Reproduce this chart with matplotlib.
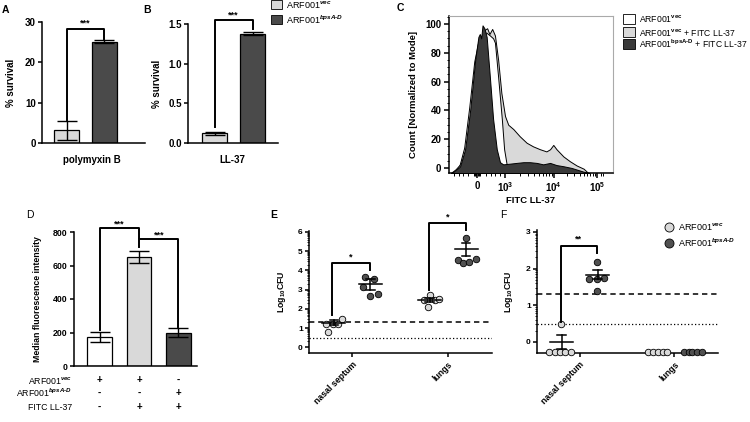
import numpy as np
import matplotlib
matplotlib.use('Agg')
import matplotlib.pyplot as plt
from matplotlib.patches import Rectangle
from matplotlib.lines import Line2D
from matplotlib.ticker import MultipleLocator, FixedLocator

plt.rcParams['font.family'] = ['Liberation Sans', 'DejaVu Sans']
plt.rcParams['font.weight'] = 'bold'
plt.rcParams['axes.labelweight'] = 'bold'
plt.rcParams['mathtext.fontset'] = 'custom'
plt.rcParams['mathtext.rm'] = 'Liberation Sans'
plt.rcParams['mathtext.it'] = 'Liberation Sans:italic'
plt.rcParams['mathtext.bf'] = 'Liberation Sans:bold'
plt.rcParams['axes.linewidth'] = 1.1
plt.rcParams['xtick.major.width'] = 1.1
plt.rcParams['ytick.major.width'] = 1.1

LIGHT = '#d9d9d9'
DARK = '#4a4a4a'
W, H = 750, 422

# ---- data A / B : survival ----
strains = ['ARF001vec', 'ARF001bpsA-D']
polymyxin_mean = [3.1, 25.1]
polymyxin_sem = [2.4, 0.4]
ll37_mean = [0.12, 1.38]
ll37_sem = [0.02, 0.02]

# ---- data C : FITC LL-37 histograms (display units, % of mode) ----
c_dark_u = [-0.55, -0.45, -0.37, -0.26, -0.15, -0.04, 0.03, 0.06, 0.09, 0.12, 0.16, 0.21, 0.28, 0.35,
            0.43, 0.50, 0.57, 0.72, 0.86, 1.01, 1.15, 1.30, 1.44, 1.59, 1.73, 1.88, 2.06, 2.31, 2.45]
c_dark_v = [-3.5, -1, 1, 13, 40, 75, 91, 93, 90, 99, 97, 91, 63, 34,
            13, 4, 2.5, 3, 3.5, 4, 4, 3.5, 2.5, 3.5, 2, 1.2, 0, -2.5, -3.5]
c_white_u = [-0.57, -0.47, -0.38, -0.28, -0.17, -0.06, 0.03, 0.12, 0.20, 0.28, 0.35, 0.39, 0.46, 0.54,
             0.59, 0.65, 0.72]
c_white_v = [-3.5, -1, 2, 14, 42, 74, 88, 93, 94, 92, 90, 87, 63, 34, 13, 1.5, -3.5]
c_gray_u = [-0.55, -0.45, -0.36, -0.25, -0.14, -0.03, 0.06, 0.12, 0.17, 0.22, 0.27, 0.33, 0.39, 0.46,
            0.53, 0.61, 0.68, 0.79, 0.93, 1.08, 1.22, 1.37, 1.51, 1.59, 1.66, 1.73, 1.88, 2.02, 2.17,
            2.32, 2.42]
c_gray_v = [-3.5, -1, 3, 16, 45, 75, 88, 92, 96, 97, 93, 96.5, 92, 75,
            52, 36, 30, 27, 22, 17.5, 15, 13, 11.5, 13, 16, 13, 8, 4.7, 1.7, -0.5, -3.5]
c_tick_pos = [0, 0.61, 1.67, 2.61]
c_tick_lab = ['0', r'$\mathbf{10^3}$', r'$\mathbf{10^4}$', r'$\mathbf{10^5}$']
c_legend = [r'ARF001$^{\mathrm{vec}}$', r'ARF001$^{\mathrm{vec}}$ + FITC LL-37',
            r'ARF001$^{\mathrm{bpsA\text{-}D}}$ + FITC LL-37']

# ---- data D : median fluorescence ----
mfi_mean = [175, 650, 200]
mfi_sem = [30, 37, 25]
d_rows = [r'ARF001$^{vec}$', r'ARF001$^{bpsA\text{-}D}$', 'FITC LL-37']
d_signs = [['+', '+', '-'], ['-', '-', '+'], ['-', '+', '+']]

# ---- data E / F : Log10 CFU ----
organs = ['nasal septum', 'lungs']
e_vals = [[1.23, 0.77, 1.20, 1.20, 1.49],
          [3.66, 3.54, 3.14, 2.76, 2.67],
          [2.47, 2.71, 2.45, 2.50, 2.12],
          [5.66, 4.53, 4.41, 4.44, 4.58]]
e_mean = [1.28, 3.27, 2.45, 5.09]
e_sem = [0.12, 0.29, 0.10, 0.34]
e_lod = [1.30, 0.47]
f_vals = [[-0.28, -0.28, -0.28, -0.28, -0.28, 0.48],
          [2.19, 1.71, 1.71, 1.75, 1.39],
          [-0.28, -0.28, -0.28, -0.28, -0.28],
          [-0.28, -0.28, -0.28, -0.28, -0.28]]
f_mean = [0.0, 1.83, np.nan, np.nan]
f_sem = [0.18, 0.12, np.nan, np.nan]
f_lod = [1.31, 0.49]

# swarm offsets (layout only)
e_off = [[-0.27, -0.25, -0.20, -0.15, -0.11], [0.135, 0.23, 0.11, 0.27, 0.19],
         [-0.25, -0.19, -0.14, -0.09, -0.21], [0.19, 0.10, 0.16, 0.22, 0.29]]
f_off = [[-0.32, -0.26, -0.21, -0.15, -0.09, -0.20], [0.18, 0.095, 0.18, 0.26, 0.18],
         [-0.28, -0.23, -0.17, -0.12, -0.08], [0.10, 0.15, 0.19, 0.24, 0.29]]
grp_x = [-0.19, 0.19, 0.81, 1.19]

fig = plt.figure(figsize=(7.5, 4.22), dpi=100)


def box(l, t, r, b):
    return fig.add_axes([l / W, 1 - b / H, (r - l) / W, (b - t) / H])


def ftext(x, y, s, **kw):
    fig.text(x / W, 1 - y / H, s, **kw)


def fbox(x, y, w, h, color):
    fig.add_artist(Rectangle((x / W, 1 - (y + h) / H), w / W, h / H, transform=fig.transFigure,
                             facecolor=color, edgecolor='black', lw=0.6))


def bracket(ax, x1, y1, x2, y2, top, label, sy):
    ax.plot([x1, x1, x2, x2], [y1, top, top, y2], color='black', lw=1.4, clip_on=False, zorder=5)
    ax.text((x1 + x2) / 2, sy, label, ha='center', va='center', fontsize=6.5, clip_on=False)


def bar_axes(ax, means, sems, colors, width, cap):
    xs = np.arange(len(means))
    ax.bar(xs, means, width=width, color=colors, edgecolor='black', lw=0.9, zorder=2)
    ax.errorbar(xs, means, yerr=sems, fmt='none', ecolor='black', elinewidth=1, capsize=cap,
                capthick=1, zorder=3)
    for s in ['top', 'right']:
        ax.spines[s].set_visible(False)
    ax.set_xticks([])
    ax.tick_params(axis='y', length=3, pad=1.5)


# ---- A ----
axA = box(42, 22, 145, 143)
bar_axes(axA, polymyxin_mean, polymyxin_sem, [LIGHT, DARK], 0.66, 7.5)
axA.set_xlim(-0.645, 2.066)
axA.set_ylim(0, 30)
axA.set_yticks([0, 10, 20, 30])
axA.tick_params(labelsize=7)
axA.set_ylabel('% survival', fontsize=7)
axA.yaxis.set_label_coords(-0.25, 0.5)
bracket(axA, 0, 5.7, 1, 25.7, 28.3, '***', 29.8)
ftext(92, 160, 'polymyxin B', ha='center', va='center', fontsize=7)
ftext(5, 10, 'A', ha='center', va='center', fontsize=7.5)

# ---- B ----
axB = box(188, 24, 278, 143)
bar_axes(axB, ll37_mean, ll37_sem, [LIGHT, DARK], 0.66, 7.5)
axB.set_xlim(-0.70, 1.67)
axB.set_ylim(0, 1.5)
axB.set_yticks([0, 0.5, 1.0, 1.5])
axB.set_yticklabels(['0.0', '0.5', '1.0', '1.5'])
axB.tick_params(labelsize=7)
axB.set_ylabel('% survival', fontsize=7)
axB.yaxis.set_label_coords(-0.29, 0.5)
bracket(axB, 0, 0.2, 1, 1.44, 1.55, '***', 1.61)
ftext(232, 160, 'LL-37', ha='center', va='center', fontsize=7)
ftext(147, 10, 'B', ha='center', va='center', fontsize=7.5)

fbox(271, 0, 11, 8.5, LIGHT)
fbox(271, 15, 11, 8.5, DARK)
ftext(286, 5, r'ARF001$^{vec}$', va='center', fontsize=6.5, fontweight='normal')
ftext(286, 20, r'ARF001$^{bpsA\text{-}D}$', va='center', fontsize=6.5, fontweight='normal')

# ---- C ----
axC = box(449, 16, 613, 173)
axC.fill_between(c_gray_u, c_gray_v, -3.5, facecolor=LIGHT, edgecolor='black', lw=0.7, zorder=1)
axC.fill_between(c_white_u, c_white_v, -3.5, facecolor='white', edgecolor='black', lw=0.7, zorder=2)
axC.fill_between(c_dark_u, c_dark_v, -3.5, facecolor='#3a3a3a', edgecolor='black', lw=0.7, zorder=3)
axC.set_xlim(-0.61, 2.96)
axC.set_ylim(-3.5, 105.5)
axC.set_yticks([0, 20, 40, 60, 80, 100])
axC.yaxis.set_minor_locator(MultipleLocator(5))
axC.set_xticks(c_tick_pos)
axC.set_xticklabels(c_tick_lab)
minor_c = [-0.5, -0.4, -0.3, -0.2, -0.06, -0.04, -0.02, 0.02, 0.04, 0.06, 0.2, 0.3, 0.4, 0.5]
minor_c += [0.61 + 1.06 * np.log10(m) for m in range(2, 10)]
minor_c += [1.67 + 0.94 * np.log10(m) for m in range(2, 10)]
minor_c += [2.61 + 0.3 * np.log10(m) for m in range(2, 4)]
axC.xaxis.set_minor_locator(FixedLocator(minor_c))
axC.tick_params(which='major', length=3.5, labelsize=7, pad=2)
axC.tick_params(which='minor', length=1.8, width=0.7)
for s in ['top', 'right']:
    axC.spines[s].set_color('#aaaaaa')
    axC.spines[s].set_linewidth(0.8)
axC.set_ylabel('Count [Normalized to Mode]', fontsize=6.8)
axC.yaxis.set_label_coords(-0.19, 0.5)
axC.set_xlabel('FITC LL-37', fontsize=6.8, labelpad=1)
ftext(400, 8, 'C', ha='center', va='center', fontsize=7.5)
for i, (lab, col) in enumerate(zip(c_legend, ['white', LIGHT, '#3a3a3a'])):
    yc = [19, 32, 44][i]
    fbox(623, yc - 4.5, 12, 9, col)
    ftext(639, yc, lab, va='center', fontsize=6.2, fontweight='normal')

# ---- D ----
axD = box(74, 232, 197, 366)
bar_axes(axD, mfi_mean, mfi_sem, ['white', LIGHT, DARK], 0.63, 7)
axD.set_xlim(-0.646, 2.47)
axD.set_ylim(0, 800)
axD.set_yticks([0, 200, 400, 600, 800])
axD.tick_params(labelsize=6.3)
axD.set_ylabel('Median fluorescence intensity', fontsize=6.3)
axD.yaxis.set_label_coords(-0.26, 0.5)
bracket(axD, 0, 215, 1, 762, 822, '***', 850)
bracket(axD, 1, 712, 2, 235, 756, '***', 782)
ftext(30, 215, 'D', ha='center', va='center', fontsize=7.5, fontweight='normal')
for r, (lab, signs) in enumerate(zip(d_rows, d_signs)):
    yy = [380, 393, 407][r]
    ftext(72, yy, lab, ha='right', va='center', fontsize=6.3, fontweight='normal')
    for cx, sg in zip([99.5, 139.5, 178.5], signs):
        ftext(cx, yy, sg, ha='center', va='center', fontsize=7)


# ---- E / F ----
def cfu_axes(ax, vals, offs, means, sems, lod, ymax, yticks):
    cols = [LIGHT, '#505050', LIGHT, '#505050']
    for g in range(4):
        xs = [(0 if g < 2 else 1) + o for o in offs[g]]
        ax.scatter(xs, vals[g], s=22, facecolor=cols[g], edgecolor='black', lw=0.6, zorder=3,
                   clip_on=False)
        if not np.isnan(means[g]):
            cx = grp_x[g]
            ax.plot([cx - 0.12, cx + 0.12], [means[g]] * 2, color='black', lw=1.1, zorder=4)
            ax.plot([cx, cx], [means[g] - sems[g], means[g] + sems[g]], color='black', lw=1.1, zorder=4)
            for yy in [means[g] - sems[g], means[g] + sems[g]]:
                ax.plot([cx - 0.045, cx + 0.045], [yy, yy], color='black', lw=1.1, zorder=4)
    ax.axhline(lod[0], color='black', lw=1.1, ls=(0, (3.5, 2.5)), zorder=1)
    ax.axhline(lod[1], color='black', lw=0.9, ls=(0, (1, 1.8)), zorder=1)
    ax.set_xlim(-0.45, 1.46)
    ax.set_ylim(-0.3, ymax)
    ax.set_yticks(yticks)
    mn = [k + np.log10(m) for k in range(0, 7) for m in range(2, 10) if k + np.log10(m) < ymax]
    ax.yaxis.set_minor_locator(FixedLocator(mn))
    ax.tick_params(axis='y', which='major', length=3, labelsize=6, pad=1.5)
    ax.tick_params(axis='y', which='minor', length=1.6, width=0.6)
    ax.set_xticks([0, 1])
    ax.set_xticklabels(organs, rotation=45, ha='right', rotation_mode='anchor', fontsize=6.3)
    ax.tick_params(axis='x', length=3, pad=2)
    for s in ['top', 'right']:
        ax.spines[s].set_visible(False)
    ax.set_ylabel(r'Log$_{10}$CFU', fontsize=6.3)


axE = box(309, 231, 492, 353)
cfu_axes(axE, e_vals, e_off, e_mean, e_sem, e_lod, 6.05, [0, 1, 2, 3, 4, 5, 6])
axE.yaxis.set_label_coords(-0.115, 0.5)
bracket(axE, -0.21, 1.67, 0.19, 4.0, 4.41, '*', 4.72)
bracket(axE, 0.805, 2.97, 1.19, 6.09, 6.47, '*', 6.77)
ftext(274, 215, 'E', ha='center', va='center', fontsize=7.5)

axF = box(537, 230, 718, 353)
cfu_axes(axF, f_vals, f_off, f_mean, f_sem, f_lod, 3.05, [0, 1, 2, 3])
axF.yaxis.set_label_coords(-0.12, 0.5)
bracket(axF, -0.2, 0.55, 0.18, 2.42, 2.62, '**', 2.8)
ftext(503, 215, 'F', ha='center', va='center', fontsize=7.5, fontweight='normal')

for yc, col, lab in [(227, LIGHT, r'ARF001$^{vec}$'), (243, '#505050', r'ARF001$^{bpsA\text{-}D}$')]:
    fig.add_artist(Line2D([669 / W], [1 - yc / H], marker='o', markersize=6.5, markerfacecolor=col,
                          markeredgecolor='black', markeredgewidth=0.6, transform=fig.transFigure))
    ftext(678, yc, lab, va='center', fontsize=6.5, fontweight='normal')

fig.savefig('out.png', dpi=100)
